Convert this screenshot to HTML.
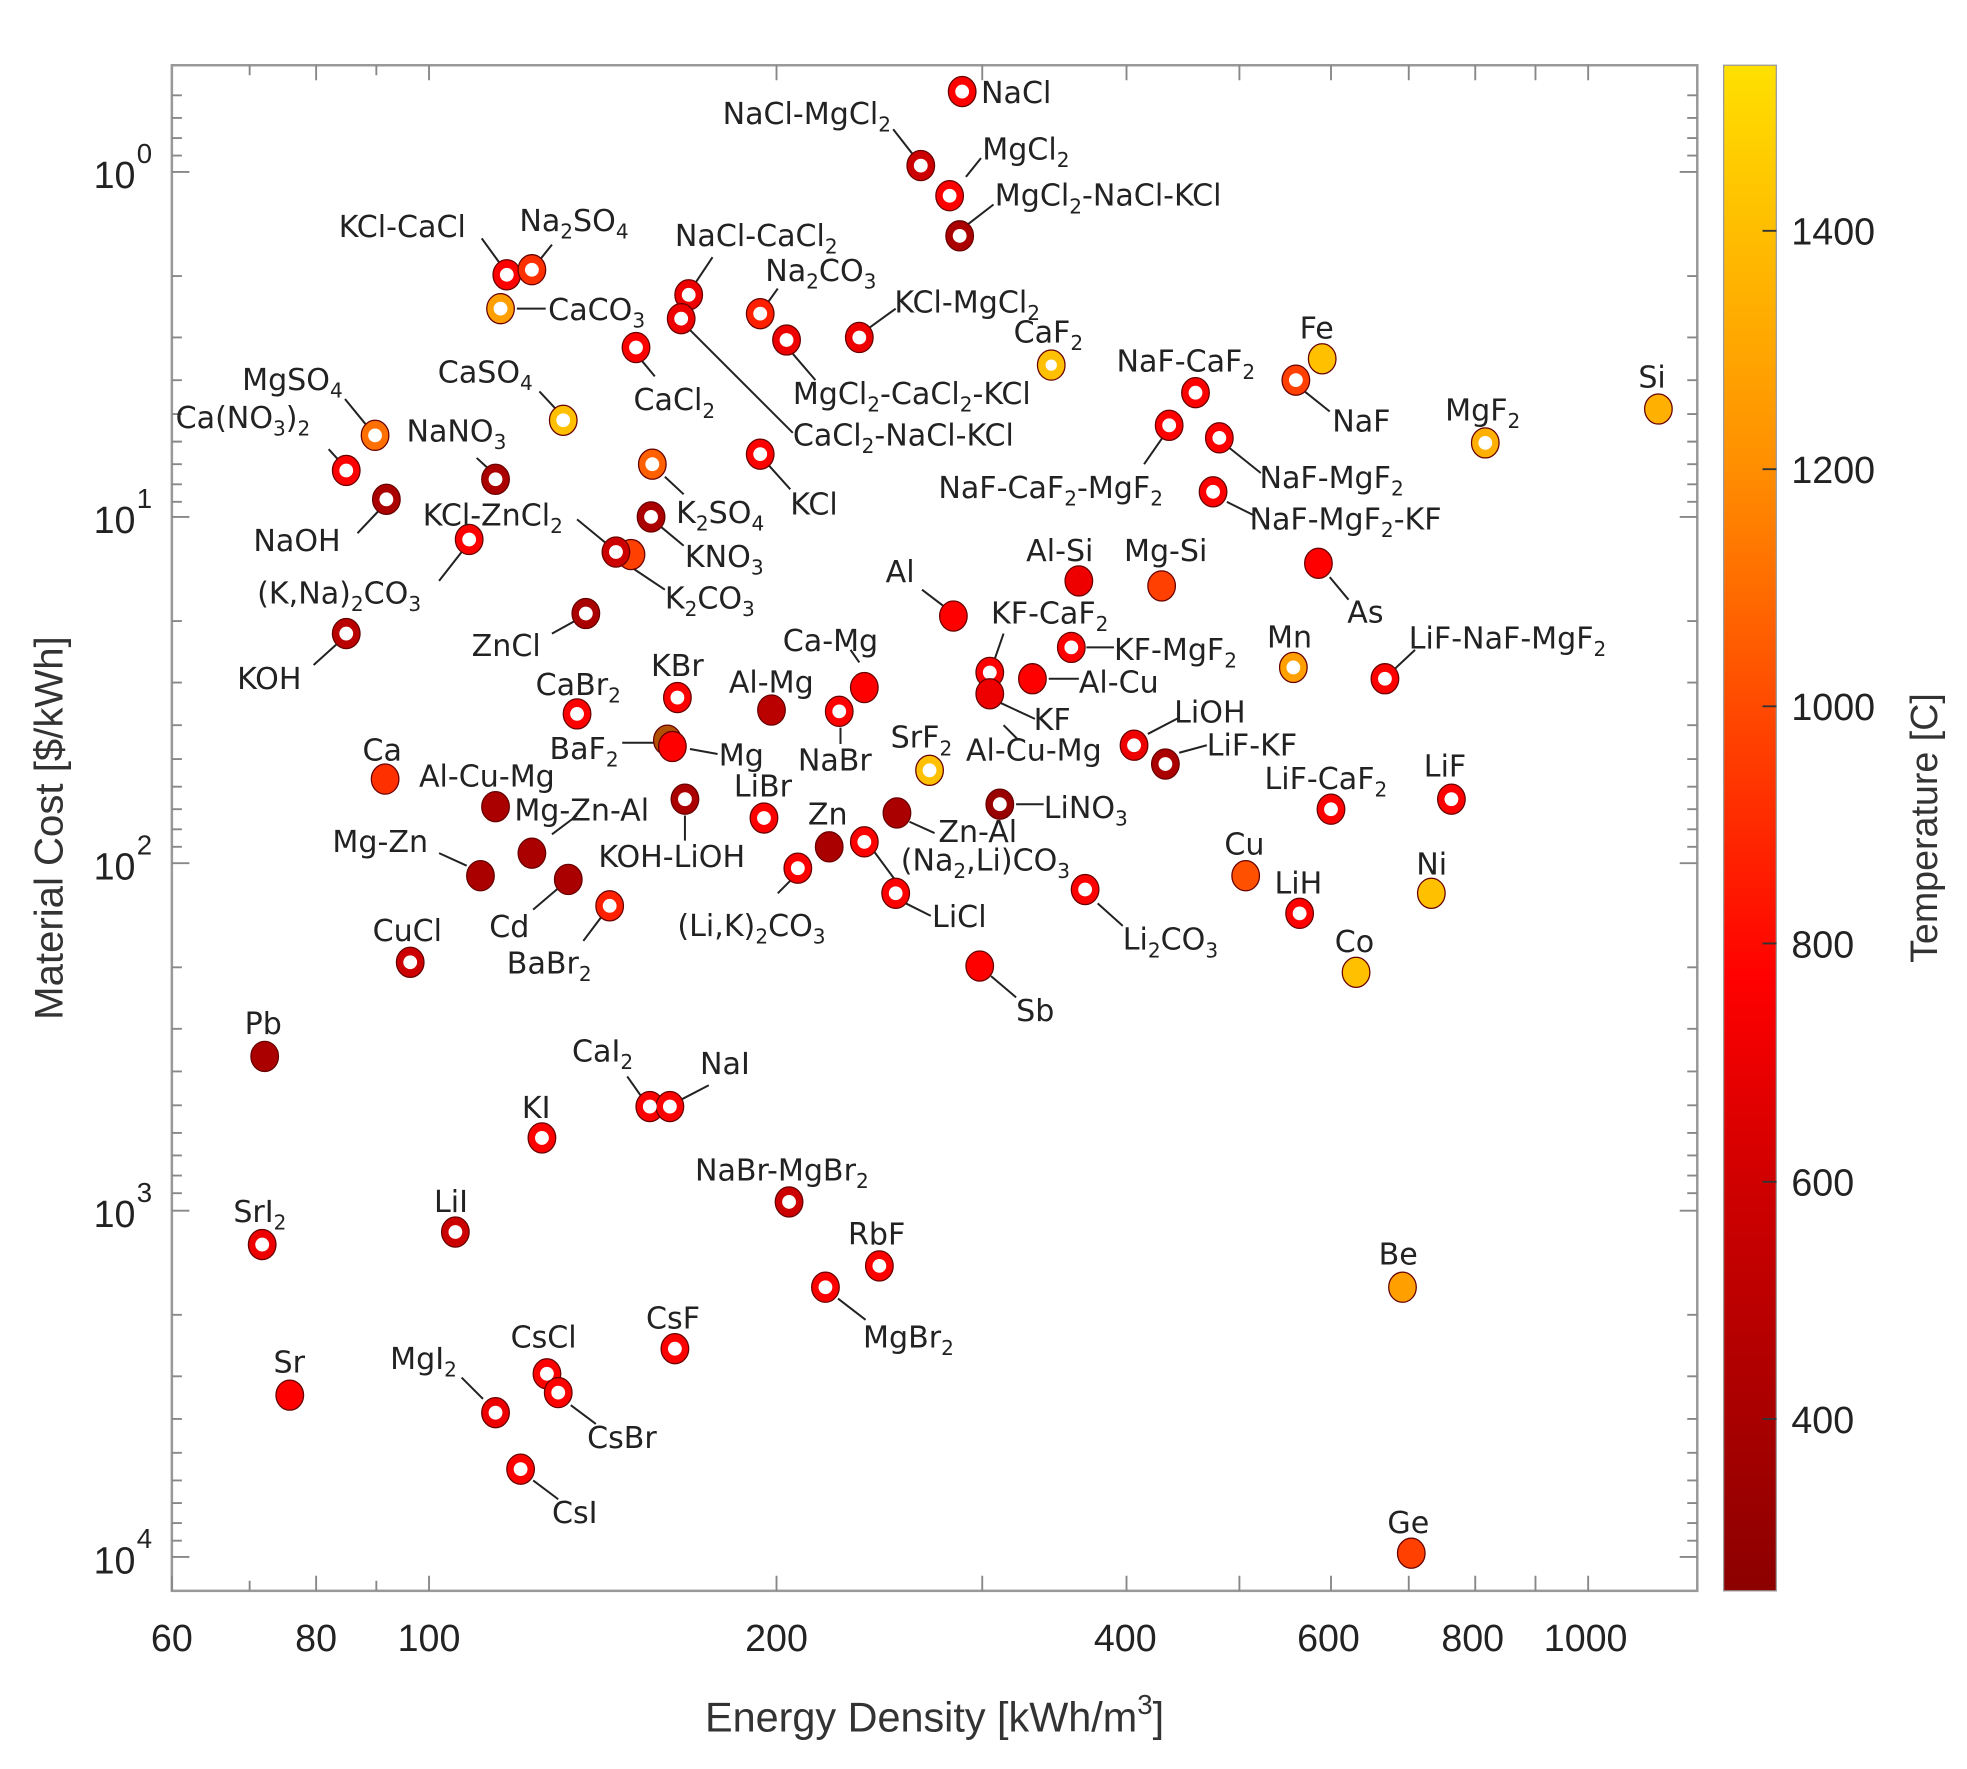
<!DOCTYPE html>
<html><head><meta charset="utf-8"><style>
html,body{margin:0;padding:0;background:#fff}
svg{display:block}
text{font-family:"Liberation Sans",sans-serif;fill:#222}
.l text{font-family:"DejaVu Sans","Liberation Sans",sans-serif;font-size:24px;fill:#222}
.s{font-size:16px}
.ax{font-size:30px;fill:#333}
.t{stroke:#888;stroke-width:1.5}
.ld{stroke:#222;stroke-width:1.6}
.h{stroke:#600;stroke-width:1}
</style></head><body>
<svg width="1967" height="1769" viewBox="0 0 1568 1410" preserveAspectRatio="none" xmlns="http://www.w3.org/2000/svg">
<defs>
<linearGradient id="cb" x1="0" y1="1" x2="0" y2="0">
<stop offset="0" stop-color="#8c0000"/>
<stop offset="0.27" stop-color="#d00000"/>
<stop offset="0.4" stop-color="#ff0000"/>
<stop offset="0.58" stop-color="#ff4a00"/>
<stop offset="0.74" stop-color="#ff9000"/>
<stop offset="0.9" stop-color="#ffc000"/>
<stop offset="1" stop-color="#ffe000"/>
</linearGradient>
</defs>
<rect x="137" y="52" width="1216" height="1216" fill="#fff" stroke="#999" stroke-width="2"/>
<rect x="1374" y="52" width="42" height="1216" fill="url(#cb)" stroke="#999" stroke-width="1"/>
<g class="t">
<path d="M137 1268v-12M199 1268v-8M252 1268v-12M300 1268v-8M342 1268v-12M619 1268v-12M783 1268v-12M898 1268v-12M988 1268v-12M1061 1268v-12M1123 1268v-12M1176 1268v-12M1224 1268v-12M1266 1268v-12"/>
<path d="M199 52v8M252 52v12M300 52v8M342 52v12M619 52v12M783 52v12M898 52v12M988 52v12M1061 52v12M1123 52v12M1176 52v12M1224 52v12M1266 52v12"/>
<path d="M137 137h14M137 412h14M137 688h14M137 965h14M137 1241h14M1353 137h-14M1353 412h-14M1353 688h-14M1353 965h-14M1353 1241h-14"/>
<path d="M137 76h8M137 94h8M137 110h8M137 124h8
M137 220h8M137 269h8M137 303h8M137 330h8M137 352h8M137 370h8M137 386h8M137 400h8
M137 495h8M137 544h8M137 578h8M137 605h8M137 627h8M137 645h8M137 661h8M137 675h8
M137 771h8M137 820h8M137 854h8M137 881h8M137 903h8M137 921h8M137 937h8M137 951h8
M137 1048h8M137 1097h8M137 1131h8M137 1158h8M137 1180h8M137 1198h8M137 1214h8M137 1228h8
M1353 76h-8M1353 94h-8M1353 110h-8M1353 124h-8
M1353 220h-8M1353 269h-8M1353 303h-8M1353 330h-8M1353 352h-8M1353 370h-8M1353 386h-8M1353 400h-8
M1353 495h-8M1353 544h-8M1353 578h-8M1353 605h-8M1353 627h-8M1353 645h-8M1353 661h-8M1353 675h-8
M1353 771h-8M1353 820h-8M1353 854h-8M1353 881h-8M1353 903h-8M1353 921h-8M1353 937h-8M1353 951h-8
M1353 1048h-8M1353 1097h-8M1353 1131h-8M1353 1158h-8M1353 1180h-8M1353 1198h-8M1353 1214h-8M1353 1228h-8"/>
<path d="M1405 184h11M1405 374h11M1405 563h11M1405 752h11M1405 942h11M1405 1131h11" stroke="#333"/>
</g>
<g class="ax" text-anchor="middle">
<text x="137" y="1316">60</text><text x="252" y="1316">80</text><text x="342" y="1316">100</text>
<text x="619" y="1316">200</text><text x="897" y="1316">400</text><text x="1059" y="1316">600</text>
<text x="1174" y="1316">800</text><text x="1264" y="1316">1000</text>
</g>
<g class="ax" text-anchor="end">
<text x="108" y="150">10</text><text x="108" y="425">10</text><text x="108" y="701">10</text><text x="108" y="978">10</text><text x="108" y="1254">10</text>
</g>
<g style="font-size:22px;fill:#333">
<text x="109" y="130">0</text><text x="109" y="405">1</text><text x="109" y="681">2</text><text x="109" y="958">3</text><text x="109" y="1234">4</text>
</g>
<g class="ax">
<text x="1428" y="195">1400</text><text x="1428" y="385">1200</text><text x="1428" y="574">1000</text>
<text x="1428" y="763">800</text><text x="1428" y="953">600</text><text x="1428" y="1142">400</text>
</g>
<text x="745" y="1380" text-anchor="middle" style="font-size:33px;fill:#333">Energy Density [kWh/m<tspan dy="-14" style="font-size:22px">3</tspan><tspan dy="14">]</tspan></text>
<text transform="translate(50,660) rotate(-90)" text-anchor="middle" style="font-size:32px;fill:#333">Material Cost [$/kWh]</text>
<text transform="translate(1544,660) rotate(-90)" text-anchor="middle" style="font-size:30px;fill:#333">Temperature [C]</text>

<g class="ld">
<path d="M712 103L730 126M770 141L782 126M770 180L792 163M384 190L400 212M440 195L428 210M412 246L435 246"/>
<path d="M568 205L552 229M547 260L632 345M512 288L522 300M620 230L610 244M632 282L650 303M692 262L714 246"/>
<path d="M1040 312L1060 328M275 318L293 340M262 358L272 369M430 312L445 328M380 365L392 376M285 425L302 407"/>
<path d="M530 380L545 394M527 420L545 435M612 370L630 390M912 370L928 347M980 357L1005 377M978 400L1000 411"/>
<path d="M460 414L488 437M500 450L530 470M350 463L368 440M1060 460L1075 478M735 470L752 483M440 505L460 494M250 530L270 512"/>
<path d="M792 528L800 505M866 516L888 516M1112 533L1128 518M685 528L678 518M836 541L860 541M797 560L825 573"/>
<path d="M915 585L940 572M940 600L962 594M800 578L812 590M496 592L522 592M550 597L572 601M440 665L460 650"/>
<path d="M546 650L546 670M725 655L745 664M810 641L832 641M350 680L372 690M425 725L445 708M697 679L714 702"/>
<path d="M620 712L632 700M875 720L895 738M722 720L742 730M465 750L480 730M790 778L810 795M500 858L512 875"/>
<path d="M565 865L540 878M668 1035L690 1052M368 1098L385 1115M455 1120L475 1135M425 1180L445 1195M670 580L670 593"/>
</g>

<g class="h">
<ellipse cx="767" cy="73" rx="11" ry="12" fill="#f00"/>
<ellipse cx="734" cy="132" rx="11" ry="12" fill="#c00"/>
<ellipse cx="757" cy="156" rx="11" ry="12" fill="#f00"/>
<ellipse cx="765" cy="188" rx="11" ry="12" fill="#a00"/>
<ellipse cx="404" cy="219" rx="11" ry="12" fill="#f00"/>
<ellipse cx="424" cy="215" rx="11" ry="12" fill="#ff3000"/>
<ellipse cx="399" cy="246" rx="11" ry="12" fill="#ffa000"/>
<ellipse cx="549" cy="235" rx="11" ry="12" fill="#e00"/>
<ellipse cx="543" cy="254" rx="11" ry="12" fill="#e00"/>
<ellipse cx="507" cy="277" rx="11" ry="12" fill="#f00"/>
<ellipse cx="606" cy="250" rx="11" ry="12" fill="#ff2000"/>
<ellipse cx="627" cy="271" rx="11" ry="12" fill="#e00"/>
<ellipse cx="685" cy="269" rx="11" ry="12" fill="#e00"/>
<ellipse cx="838" cy="291" rx="11" ry="12" fill="#ffc000"/>
<ellipse cx="953" cy="313" rx="11" ry="12" fill="#f00"/>
<ellipse cx="1033" cy="303" rx="11" ry="12" fill="#ff4000"/>
<ellipse cx="1184" cy="353" rx="11" ry="12" fill="#ffb000"/>
<ellipse cx="299" cy="347" rx="11" ry="12" fill="#ff7000"/>
<ellipse cx="276" cy="375" rx="11" ry="12" fill="#f00"/>
<ellipse cx="449" cy="335" rx="11" ry="12" fill="#ffc000"/>
<ellipse cx="395" cy="382" rx="11" ry="12" fill="#a00"/>
<ellipse cx="308" cy="398" rx="11" ry="12" fill="#a00"/>
<ellipse cx="374" cy="430" rx="11" ry="12" fill="#f00"/>
<ellipse cx="520" cy="370" rx="11" ry="12" fill="#ff6000"/>
<ellipse cx="519" cy="412" rx="11" ry="12" fill="#a00"/>
<ellipse cx="606" cy="362" rx="11" ry="12" fill="#f00"/>
<ellipse cx="932" cy="339" rx="11" ry="12" fill="#f00"/>
<ellipse cx="972" cy="349" rx="11" ry="12" fill="#f00"/>
<ellipse cx="967" cy="392" rx="11" ry="12" fill="#f00"/>
<ellipse cx="503" cy="442" rx="11" ry="12" fill="#ff4000"/>
<ellipse cx="491" cy="440" rx="11" ry="12" fill="#c00"/>
<ellipse cx="467" cy="489" rx="11" ry="12" fill="#a00"/>
<ellipse cx="276" cy="505" rx="11" ry="12" fill="#b00"/>
<ellipse cx="789" cy="536" rx="11" ry="12" fill="#f00"/>
<ellipse cx="854" cy="516" rx="11" ry="12" fill="#f00"/>
<ellipse cx="1031" cy="532" rx="11" ry="12" fill="#ffa000"/>
<ellipse cx="1104" cy="541" rx="11" ry="12" fill="#f00"/>
<ellipse cx="540" cy="556" rx="11" ry="12" fill="#f00"/>
<ellipse cx="460" cy="569" rx="11" ry="12" fill="#f00"/>
<ellipse cx="669" cy="567" rx="11" ry="12" fill="#f00"/>
<ellipse cx="904" cy="594" rx="11" ry="12" fill="#e00"/>
<ellipse cx="929" cy="609" rx="11" ry="12" fill="#a00"/>
<ellipse cx="741" cy="614" rx="11" ry="12" fill="#ffc000"/>
<ellipse cx="546" cy="637" rx="11" ry="12" fill="#a00"/>
<ellipse cx="609" cy="652" rx="11" ry="12" fill="#f00"/>
<ellipse cx="797" cy="641" rx="11" ry="12" fill="#900"/>
<ellipse cx="1061" cy="645" rx="11" ry="12" fill="#f00"/>
<ellipse cx="1157" cy="637" rx="11" ry="12" fill="#f00"/>
<ellipse cx="689" cy="671" rx="11" ry="12" fill="#f00"/>
<ellipse cx="636" cy="692" rx="11" ry="12" fill="#f00"/>
<ellipse cx="865" cy="709" rx="11" ry="12" fill="#f00"/>
<ellipse cx="714" cy="712" rx="11" ry="12" fill="#f00"/>
<ellipse cx="1036" cy="728" rx="11" ry="12" fill="#f00"/>
<ellipse cx="486" cy="722" rx="11" ry="12" fill="#ff2000"/>
<ellipse cx="327" cy="767" rx="11" ry="12" fill="#c00"/>
<ellipse cx="518" cy="882" rx="11" ry="12" fill="#f00"/>
<ellipse cx="534" cy="882" rx="11" ry="12" fill="#f00"/>
<ellipse cx="432" cy="907" rx="11" ry="12" fill="#f00"/>
<ellipse cx="629" cy="958" rx="11" ry="12" fill="#c00"/>
<ellipse cx="209" cy="992" rx="11" ry="12" fill="#e00"/>
<ellipse cx="363" cy="982" rx="11" ry="12" fill="#c00"/>
<ellipse cx="701" cy="1009" rx="11" ry="12" fill="#f00"/>
<ellipse cx="658" cy="1026" rx="11" ry="12" fill="#f00"/>
<ellipse cx="538" cy="1075" rx="11" ry="12" fill="#f00"/>
<ellipse cx="395" cy="1126" rx="11" ry="12" fill="#e00"/>
<ellipse cx="436" cy="1095" rx="11" ry="12" fill="#f00"/>
<ellipse cx="445" cy="1110" rx="11" ry="12" fill="#f00"/>
<ellipse cx="415" cy="1171" rx="11" ry="12" fill="#f00"/>
<g fill="#fff" stroke="none">
<circle cx="767" cy="73" r="5.5"/><circle cx="734" cy="132" r="5.5"/><circle cx="757" cy="156" r="5.5"/><circle cx="765" cy="188" r="5.5"/>
<circle cx="404" cy="219" r="5.5"/><circle cx="424" cy="215" r="5.5"/><circle cx="399" cy="246" r="5.5"/><circle cx="549" cy="235" r="5.5"/>
<circle cx="543" cy="254" r="5.5"/><circle cx="507" cy="277" r="5.5"/><circle cx="606" cy="250" r="5.5"/><circle cx="627" cy="271" r="5.5"/>
<circle cx="685" cy="269" r="5.5"/><circle cx="838" cy="291" r="4.5"/><circle cx="953" cy="313" r="5.5"/><circle cx="1033" cy="303" r="5.5"/>
<circle cx="1184" cy="353" r="5.5"/><circle cx="299" cy="347" r="5.5"/><circle cx="276" cy="375" r="5.5"/><circle cx="449" cy="335" r="5.5"/>
<circle cx="395" cy="382" r="5.5"/><circle cx="308" cy="398" r="5.5"/><circle cx="374" cy="430" r="5.5"/><circle cx="520" cy="370" r="5.5"/>
<circle cx="519" cy="412" r="5.5"/><circle cx="606" cy="362" r="5.5"/><circle cx="932" cy="339" r="5.5"/><circle cx="972" cy="349" r="5.5"/>
<circle cx="967" cy="392" r="5.5"/><circle cx="491" cy="440" r="5.5"/><circle cx="467" cy="489" r="5.5"/>
<circle cx="276" cy="505" r="5.5"/><circle cx="789" cy="536" r="5.5"/><circle cx="854" cy="516" r="5.5"/><circle cx="1031" cy="532" r="5.5"/>
<circle cx="1104" cy="541" r="5.5"/><circle cx="540" cy="556" r="5.5"/><circle cx="460" cy="569" r="5.5"/><circle cx="669" cy="567" r="5.5"/>
<circle cx="904" cy="594" r="5.5"/><circle cx="929" cy="609" r="5.5"/><circle cx="741" cy="614" r="5.5"/><circle cx="546" cy="637" r="5.5"/>
<circle cx="609" cy="652" r="5.5"/><circle cx="797" cy="641" r="5.5"/><circle cx="1061" cy="645" r="5.5"/><circle cx="1157" cy="637" r="5.5"/>
<circle cx="689" cy="671" r="5.5"/><circle cx="636" cy="692" r="5.5"/><circle cx="865" cy="709" r="5.5"/><circle cx="714" cy="712" r="5.5"/>
<circle cx="1036" cy="728" r="5.5"/><circle cx="486" cy="722" r="5.5"/><circle cx="327" cy="767" r="5.5"/><circle cx="518" cy="882" r="5.5"/>
<circle cx="534" cy="882" r="5.5"/><circle cx="432" cy="907" r="5.5"/><circle cx="629" cy="958" r="5.5"/><circle cx="209" cy="992" r="5.5"/>
<circle cx="363" cy="982" r="5.5"/><circle cx="701" cy="1009" r="5.5"/><circle cx="658" cy="1026" r="5.5"/><circle cx="538" cy="1075" r="5.5"/>
<circle cx="395" cy="1126" r="5.5"/><circle cx="436" cy="1095" r="5.5"/><circle cx="445" cy="1110" r="5.5"/><circle cx="415" cy="1171" r="5.5"/>
</g>
<ellipse cx="1054" cy="286" rx="11" ry="12" fill="#ffc000"/>
<ellipse cx="1322" cy="326" rx="11" ry="12" fill="#ffb000"/>
<ellipse cx="860" cy="463" rx="11" ry="12" fill="#e00"/>
<ellipse cx="926" cy="467" rx="11" ry="12" fill="#ff4000"/>
<ellipse cx="1051" cy="449" rx="11" ry="12" fill="#f00"/>
<ellipse cx="760" cy="491" rx="11" ry="12" fill="#f00"/>
<ellipse cx="689" cy="548" rx="11" ry="12" fill="#f00"/>
<ellipse cx="823" cy="541" rx="11" ry="12" fill="#f00"/>
<ellipse cx="789" cy="553" rx="11" ry="12" fill="#e00"/>
<ellipse cx="615" cy="566" rx="11" ry="12" fill="#b00"/>
<ellipse cx="532" cy="590" rx="11" ry="12" fill="#b05000"/>
<ellipse cx="536" cy="595" rx="11" ry="12" fill="#f00"/>
<ellipse cx="307" cy="621" rx="11" ry="12" fill="#ff3000"/>
<ellipse cx="395" cy="643" rx="11" ry="12" fill="#a00"/>
<ellipse cx="424" cy="680" rx="11" ry="12" fill="#a00"/>
<ellipse cx="661" cy="675" rx="11" ry="12" fill="#a00"/>
<ellipse cx="715" cy="648" rx="11" ry="12" fill="#a00"/>
<ellipse cx="383" cy="698" rx="11" ry="12" fill="#a00"/>
<ellipse cx="453" cy="701" rx="11" ry="12" fill="#a00"/>
<ellipse cx="993" cy="698" rx="11" ry="12" fill="#ff5000"/>
<ellipse cx="1141" cy="712" rx="11" ry="12" fill="#ffc000"/>
<ellipse cx="1081" cy="775" rx="11" ry="12" fill="#ffc000"/>
<ellipse cx="781" cy="770" rx="11" ry="12" fill="#f00"/>
<ellipse cx="211" cy="842" rx="11" ry="12" fill="#a00"/>
<ellipse cx="1118" cy="1026" rx="11" ry="12" fill="#ffa000"/>
<ellipse cx="231" cy="1112" rx="11" ry="12" fill="#f00"/>
<ellipse cx="1125" cy="1238" rx="11" ry="12" fill="#ff4000"/>
</g>

<g class="l">
<text x="782" y="82">NaCl</text>
<text x="576" y="99">NaCl-MgCl<tspan class="s" dy="6">2</tspan></text>
<text x="783" y="127">MgCl<tspan class="s" dy="6">2</tspan></text>
<text x="793" y="164">MgCl<tspan class="s" dy="6">2</tspan><tspan dy="-6">-NaCl-KCl</tspan></text>
<text x="270" y="189">KCl-CaCl</text>
<text x="414" y="184">Na<tspan class="s" dy="6">2</tspan><tspan dy="-6">SO</tspan><tspan class="s" dy="6">4</tspan></text>
<text x="437" y="255">CaCO<tspan class="s" dy="6">3</tspan></text>
<text x="538" y="196">NaCl-CaCl<tspan class="s" dy="6">2</tspan></text>
<text x="505" y="327">CaCl<tspan class="s" dy="6">2</tspan></text>
<text x="610" y="224">Na<tspan class="s" dy="6">2</tspan><tspan dy="-6">CO</tspan><tspan class="s" dy="6">3</tspan></text>
<text x="632" y="322">MgCl<tspan class="s" dy="6">2</tspan><tspan dy="-6">-CaCl</tspan><tspan class="s" dy="6">2</tspan><tspan dy="-6">-KCl</tspan></text>
<text x="632" y="355">CaCl<tspan class="s" dy="6">2</tspan><tspan dy="-6">-NaCl-KCl</tspan></text>
<text x="713" y="249">KCl-MgCl<tspan class="s" dy="6">2</tspan></text>
<text x="808" y="273">CaF<tspan class="s" dy="6">2</tspan></text>
<text x="890" y="296">NaF-CaF<tspan class="s" dy="6">2</tspan></text>
<text x="1036" y="270">Fe</text>
<text x="1062" y="344">NaF</text>
<text x="1306" y="309">Si</text>
<text x="1152" y="335">MgF<tspan class="s" dy="6">2</tspan></text>
<text x="193" y="311">MgSO<tspan class="s" dy="6">4</tspan></text>
<text x="140" y="341">Ca(NO<tspan class="s" dy="6">3</tspan><tspan dy="-6">)</tspan><tspan class="s" dy="6">2</tspan></text>
<text x="349" y="305">CaSO<tspan class="s" dy="6">4</tspan></text>
<text x="324" y="352">NaNO<tspan class="s" dy="6">3</tspan></text>
<text x="202" y="439">NaOH</text>
<text x="337" y="419">KCl-ZnCl<tspan class="s" dy="6">2</tspan></text>
<text x="539" y="417">K<tspan class="s" dy="6">2</tspan><tspan dy="-6">SO</tspan><tspan class="s" dy="6">4</tspan></text>
<text x="546" y="452">KNO<tspan class="s" dy="6">3</tspan></text>
<text x="630" y="410">KCl</text>
<text x="748" y="397">NaF-CaF<tspan class="s" dy="6">2</tspan><tspan dy="-6">-MgF</tspan><tspan class="s" dy="6">2</tspan></text>
<text x="1004" y="389">NaF-MgF<tspan class="s" dy="6">2</tspan></text>
<text x="996" y="422">NaF-MgF<tspan class="s" dy="6">2</tspan><tspan dy="-6">-KF</tspan></text>
<text x="530" y="485">K<tspan class="s" dy="6">2</tspan><tspan dy="-6">CO</tspan><tspan class="s" dy="6">3</tspan></text>
<text x="205" y="481">(K,Na)<tspan class="s" dy="6">2</tspan><tspan dy="-6">CO</tspan><tspan class="s" dy="6">3</tspan></text>
<text x="818" y="447">Al-Si</text>
<text x="896" y="447">Mg-Si</text>
<text x="1074" y="496">As</text>
<text x="706" y="464">Al</text>
<text x="376" y="523">ZnCl</text>
<text x="189" y="549">KOH</text>
<text x="790" y="497">KF-CaF<tspan class="s" dy="6">2</tspan></text>
<text x="888" y="526">KF-MgF<tspan class="s" dy="6">2</tspan></text>
<text x="1010" y="516">Mn</text>
<text x="1123" y="517">LiF-NaF-MgF<tspan class="s" dy="6">2</tspan></text>
<text x="624" y="519">Ca-Mg</text>
<text x="860" y="552">Al-Cu</text>
<text x="824" y="582">KF</text>
<text x="519" y="539">KBr</text>
<text x="427" y="554">CaBr<tspan class="s" dy="6">2</tspan></text>
<text x="581" y="552">Al-Mg</text>
<text x="636" y="614">NaBr</text>
<text x="936" y="576">LiOH</text>
<text x="962" y="602">LiF-KF</text>
<text x="770" y="606">Al-Cu-Mg</text>
<text x="710" y="596">SrF<tspan class="s" dy="6">2</tspan></text>
<text x="438" y="605">BaF<tspan class="s" dy="6">2</tspan></text>
<text x="573" y="610">Mg</text>
<text x="289" y="606">Ca</text>
<text x="334" y="627">Al-Cu-Mg</text>
<text x="410" y="654">Mg-Zn-Al</text>
<text x="477" y="691">KOH-LiOH</text>
<text x="585" y="635">LiBr</text>
<text x="644" y="657">Zn</text>
<text x="748" y="671">Zn-Al</text>
<text x="832" y="652">LiNO<tspan class="s" dy="6">3</tspan></text>
<text x="1008" y="629">LiF-CaF<tspan class="s" dy="6">2</tspan></text>
<text x="1135" y="619">LiF</text>
<text x="265" y="679">Mg-Zn</text>
<text x="390" y="747">Cd</text>
<text x="718" y="694">(Na<tspan class="s" dy="6">2</tspan><tspan dy="-6">,Li)CO</tspan><tspan class="s" dy="6">3</tspan></text>
<text x="540" y="746">(Li,K)<tspan class="s" dy="6">2</tspan><tspan dy="-6">CO</tspan><tspan class="s" dy="6">3</tspan></text>
<text x="976" y="681">Cu</text>
<text x="1129" y="697">Ni</text>
<text x="895" y="757">Li<tspan class="s" dy="6">2</tspan><tspan dy="-6">CO</tspan><tspan class="s" dy="6">3</tspan></text>
<text x="743" y="739">LiCl</text>
<text x="1016" y="712">LiH</text>
<text x="404" y="776">BaBr<tspan class="s" dy="6">2</tspan></text>
<text x="297" y="750">CuCl</text>
<text x="1064" y="759">Co</text>
<text x="810" y="814">Sb</text>
<text x="195" y="824">Pb</text>
<text x="456" y="846">CaI<tspan class="s" dy="6">2</tspan></text>
<text x="558" y="856">NaI</text>
<text x="416" y="891">KI</text>
<text x="554" y="941">NaBr-MgBr<tspan class="s" dy="6">2</tspan></text>
<text x="186" y="974">SrI<tspan class="s" dy="6">2</tspan></text>
<text x="346" y="966">LiI</text>
<text x="676" y="992">RbF</text>
<text x="1099" y="1008">Be</text>
<text x="688" y="1074">MgBr<tspan class="s" dy="6">2</tspan></text>
<text x="515" y="1059">CsF</text>
<text x="218" y="1094">Sr</text>
<text x="311" y="1091">MgI<tspan class="s" dy="6">2</tspan></text>
<text x="407" y="1074">CsCl</text>
<text x="468" y="1154">CsBr</text>
<text x="440" y="1214">CsI</text>
<text x="1106" y="1222">Ge</text>
</g>
</svg>
</body></html>
